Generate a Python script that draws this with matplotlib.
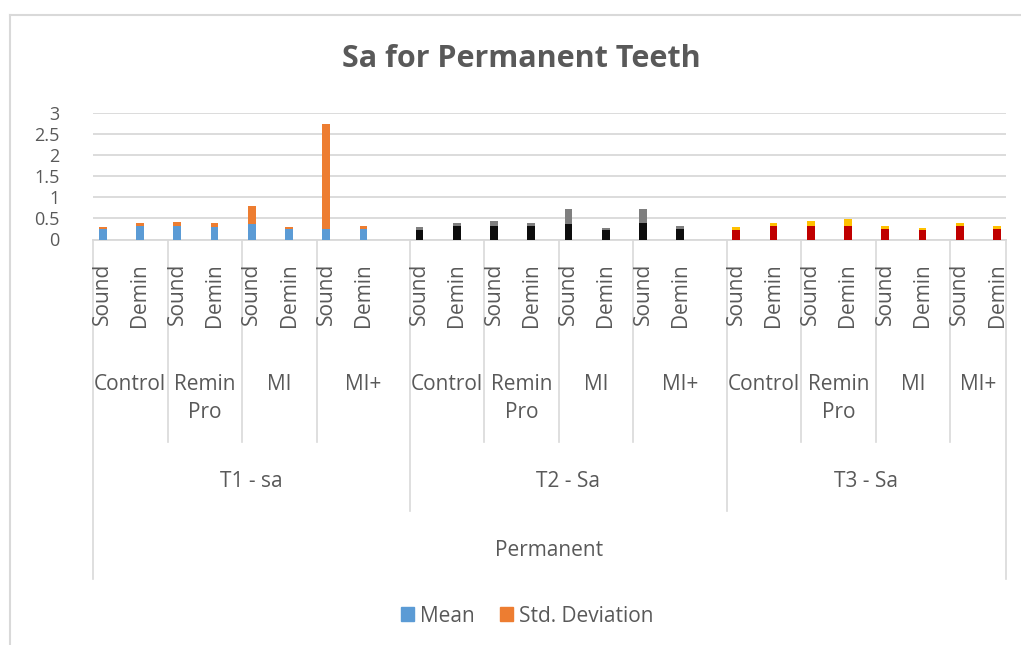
import matplotlib.pyplot as plt
from matplotlib.lines import Line2D
from matplotlib.patches import Patch
from matplotlib.transforms import blended_transform_factory

plt.rcParams['font.family'] = ['Open Sans', 'DejaVu Sans']

# data
groups = ["T1 - sa", "T2 - Sa", "T3 - Sa"]
treatments = ["Control", "Remin\nPro", "MI", "MI+"]
surfaces = ["Sound", "Demin"]
t1_mean = [0.24, 0.33, 0.33, 0.30, 0.38, 0.25, 0.25, 0.26]
t1_sd = [0.06, 0.06, 0.09, 0.10, 0.41, 0.04, 2.50, 0.07]
t2_mean = [0.23, 0.33, 0.33, 0.31, 0.38, 0.23, 0.40, 0.26]
t2_sd = [0.07, 0.07, 0.11, 0.09, 0.35, 0.04, 0.33, 0.06]
t3_mean = [0.23, 0.33, 0.31, 0.33, 0.26, 0.23, 0.33, 0.26]
t3_sd = [0.07, 0.07, 0.12, 0.16, 0.05, 0.05, 0.07, 0.07]

means = [t1_mean, t2_mean, t3_mean]
sds = [t1_sd, t2_sd, t3_sd]
mean_colors = ["#5B9BD5", "#0D0D0D", "#C00000"]
sd_colors = ["#ED7D31", "#7F7F7F", "#FFC000"]

TXT = "#595959"
GRID = "#D9D9D9"
W, H = 1021, 645

# excel layout: each T-group is 8.5 category slots wide, last one 7.5
group_start = [0, 8.5, 17]
group_end = [8.5, 17, 24.5]
offset = 0.26

fig = plt.figure(figsize=(W / 100, H / 100), dpi=100)
ax = fig.add_axes([93 / W, 1 - 239.5 / H, 913 / W, 126.2 / H])

for g in range(3):
    xs = [group_start[g] + i + offset for i in range(8)]
    ax.bar(xs, means[g], width=0.21, color=mean_colors[g], zorder=3)
    ax.bar(xs, sds[g], bottom=means[g], width=0.21, color=sd_colors[g], zorder=3)

ax.set_xlim(0, 24.5)
ax.set_ylim(0, 3)
ax.set_yticks([0, 0.5, 1, 1.5, 2, 2.5, 3])
ax.set_yticklabels(["0", "0.5", "1", "1.5", "2", "2.5", "3"])
ax.tick_params(axis="y", length=0, pad=24, labelsize=13, labelcolor=TXT)
ax.set_xticks([])
ax.grid(axis="y", color=GRID, linewidth=1.3, zorder=0)
for s in ["top", "right", "left"]:
    ax.spines[s].set_visible(False)
ax.spines["bottom"].set_color(GRID)
ax.spines["bottom"].set_linewidth(1.3)

# multi-level category axis drawn under the plot
tr = blended_transform_factory(ax.transData, fig.transFigure)


def fy(py):
    return 1 - py / H


def vline(x, y_bottom):
    fig.add_artist(Line2D([x, x], [fy(240), fy(y_bottom)], transform=tr,
                          color=GRID, linewidth=1.2))


for g in range(3):
    start = group_start[g]
    for t in range(4):
        t0 = start + 2 * t
        t1 = group_end[g] if t == 3 else t0 + 2
        for k in range(2):
            fig.text(t0 + k + offset, fy(263), surfaces[k], transform=tr,
                     rotation=90, ha="center", va="top", fontsize=15, color=TXT)
        fig.text((t0 + t1) / 2, fy(374), treatments[t], transform=tr,
                 ha="center", va="top", fontsize=15, color=TXT,
                 multialignment="center", linespacing=1.45)
        if t > 0:
            vline(t0, 442)
    fig.text((start + group_end[g]) / 2, fy(481.5), groups[g], transform=tr,
             ha="center", va="center", fontsize=15, color=TXT)

vline(8.5, 511)
vline(17, 511)
vline(0, 579)
vline(24.5, 579)
fig.text(12.25, fy(550), "Permanent", transform=tr,
         ha="center", va="center", fontsize=15, color=TXT)

fig.text(521 / W, fy(59), "Sa for Permanent Teeth", ha="center", va="center",
         fontsize=22, fontweight="bold", color=TXT)

# chart border (runs off the image on the right and bottom)
fig.add_artist(Line2D([10 / W, 10 / W], [fy(15), 0], color=GRID, linewidth=1.5))
fig.add_artist(Line2D([10 / W, 1], [fy(15), fy(15)], color=GRID, linewidth=1.5))

handles = [Patch(color=mean_colors[0], label="Mean"),
           Patch(color=sd_colors[0], label="Std. Deviation")]
leg = fig.legend(handles=handles, loc="center", bbox_to_anchor=(527 / W, fy(616)),
                 ncol=2, frameon=False, fontsize=15, handlelength=0.62,
                 handleheight=0.62, handletextpad=0.3, columnspacing=1.2,
                 borderpad=0)
for t in leg.get_texts():
    t.set_color(TXT)

fig.savefig("out.png", dpi=100)
